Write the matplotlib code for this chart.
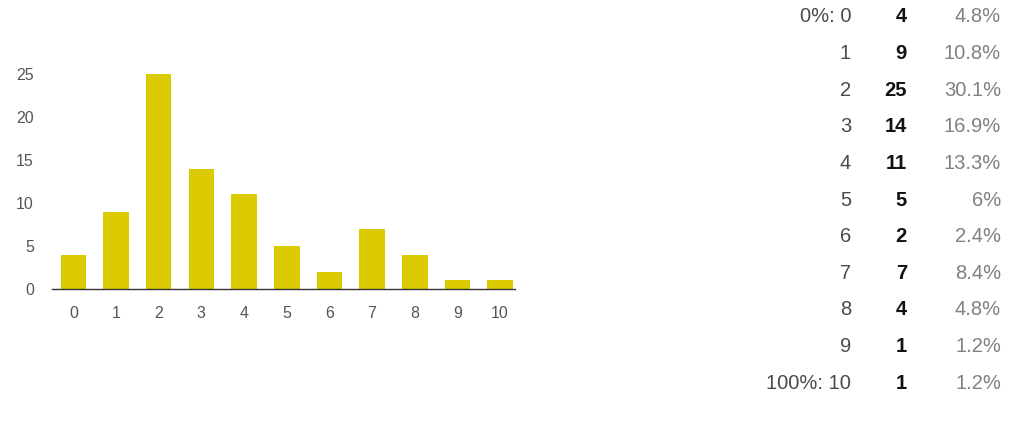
import matplotlib.pyplot as plt

plt.rcParams["font.family"] = ["Liberation Sans", "DejaVu Sans"]

# ---- data ----
scores = ["0", "1", "2", "3", "4", "5", "6", "7", "8", "9", "10"]
counts = [4, 9, 25, 14, 11, 5, 2, 7, 4, 1, 1]
row_labels = ["0%: 0", "1", "2", "3", "4", "5", "6", "7", "8", "9", "100%: 10"]
percents = ["4.8%", "10.8%", "30.1%", "16.9%", "13.3%", "6%", "2.4%", "8.4%", "4.8%", "1.2%", "1.2%"]
yticks = [0, 5, 10, 15, 20, 25]

W, H = 1010, 423
fig = plt.figure(figsize=(W / 100, H / 100), dpi=100)

# ---- bar chart ----
ax = fig.add_axes([52 / W, (H - 289) / H, (515 - 52) / W, (289 - 74) / H])
x = list(range(len(scores)))
ax.bar(x, counts, width=0.6, color="#dccb00")
ax.set_xlim(-0.5, 10.35)
ax.set_ylim(0, 25)
ax.set_xticks(x)
ax.set_xticklabels(scores)
ax.set_yticks(yticks)
for s in ["top", "right", "left"]:
    ax.spines[s].set_visible(False)
ax.spines["bottom"].set_color("#333333")
ax.spines["bottom"].set_linewidth(1)
ax.tick_params(length=0, labelsize=11.5, labelcolor="#555555")
ax.tick_params(axis="x", pad=12.5)
ax.tick_params(axis="y", pad=13)

# ---- summary table ----
y0, dy = 17, 36.6
for i in range(len(row_labels)):
    y = 1 - (y0 + i * dy) / H
    fig.text(851 / W, y, row_labels[i], ha="right", va="center",
             fontsize=14.5, color="#4a4a4a")
    fig.text(907 / W, y, str(counts[i]), ha="right", va="center",
             fontsize=14.5, color="#111111", fontweight="bold")
    fig.text(1001 / W, y, percents[i], ha="right", va="center",
             fontsize=14.5, color="#808080")

fig.savefig("out.png", dpi=100)
